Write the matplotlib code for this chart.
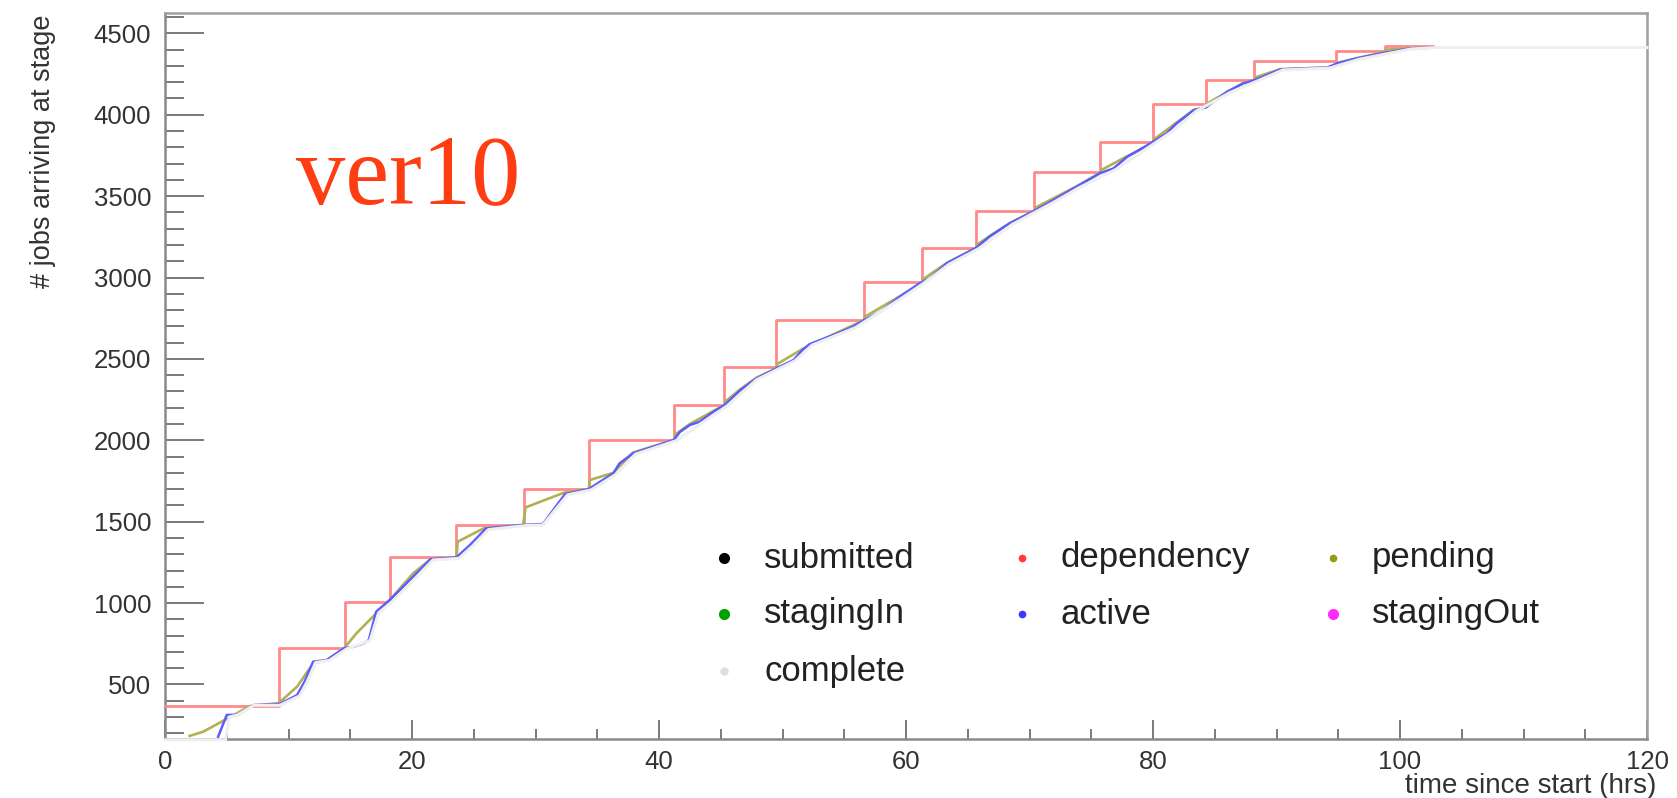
import matplotlib
matplotlib.use("Agg")
import matplotlib.pyplot as plt
from matplotlib.ticker import MultipleLocator

plt.rcParams['font.family'] = ['Liberation Sans', 'DejaVu Sans']

# ---------------- data ----------------
dep_t = [0, 9.2, 14.6, 18.2, 23.6, 29.1, 34.3, 41.2, 45.3, 49.5, 56.6, 61.3,
         65.7, 70.4, 75.7, 80.0, 84.3, 88.2, 94.8, 98.8, 102.7]
dep_n = [368, 722, 1006, 1281, 1480, 1700, 2002, 2216, 2448, 2738, 2970, 3183,
         3410, 3649, 3834, 4065, 4212, 4329, 4392, 4420, 4420]

pend_t = [2.0, 3.1, 4.6, 6.9, 9.2, 10.7, 12.0, 13.1, 14.5, 15.5,
          16.7, 18.2, 20.1, 21.5, 23.6, 23.7, 25.8, 29.0, 29.2, 32.3,
          34.3, 34.4, 36.3, 37.9, 41.2, 41.3, 42.5, 44.4, 45.3, 45.4,
          46.6, 47.9, 49.5, 49.6, 51.6, 54.1, 56.6, 56.7, 59.5, 61.3,
          61.4, 63.3, 65.7, 65.8, 68.4, 70.4, 70.5, 73.8, 75.7, 75.8,
          77.9, 80.0, 80.1, 83.3, 84.3, 84.4, 87.3, 88.2, 88.3, 90.3,
          94.1, 94.8, 94.9, 96.5, 98.8, 98.9, 100.8, 102.7]
pend_n = [184, 210, 272, 368, 385, 487, 630, 650, 722, 814,
          906, 1019, 1183, 1269, 1281, 1377, 1459, 1480, 1588, 1678,
          1700, 1756, 1800, 1925, 2002, 2035, 2100, 2180, 2216, 2240,
          2315, 2385, 2442, 2470, 2560, 2650, 2738, 2760, 2885, 2968,
          2990, 3090, 3183, 3205, 3335, 3410, 3430, 3560, 3641, 3660,
          3745, 3824, 3850, 4030, 4046, 4070, 4195, 4212, 4230, 4280,
          4290, 4300, 4318, 4348, 4385, 4400, 4408, 4413]

act_t = [4.3, 5.0, 5.9, 7.2, 9.3, 10.7, 11.3, 12.0, 13.1, 14.5,
         15.3, 16.1, 16.5, 17.1, 18.2, 20.1, 21.5, 23.6, 24.7, 26.0,
         29.0, 30.6, 32.4, 34.3, 36.3, 36.8, 37.9, 41.2, 41.7, 42.5,
         43.3, 44.4, 45.3, 46.6, 47.9, 49.5, 50.9, 51.6, 52.2, 54.1,
         55.7, 56.6, 57.9, 59.5, 61.1, 61.9, 63.3, 65.7, 66.8, 68.4,
         70.4, 71.7, 73.8, 75.7, 76.8, 77.9, 79.8, 81.1, 81.9, 83.3,
         84.3, 86.0, 87.3, 88.2, 89.2, 90.3, 91.9, 94.1, 94.9, 96.5,
         98.7, 100.8, 102.7]
act_n = [179, 313, 313, 374, 380, 435, 517, 640, 650, 722,
         732, 753, 773, 947, 1019, 1162, 1269, 1281, 1357, 1459,
         1480, 1486, 1670, 1700, 1797, 1858, 1920, 2002, 2052, 2094,
         2114, 2175, 2216, 2309, 2380, 2442, 2493, 2554, 2591, 2646,
         2697, 2738, 2789, 2882, 2964, 2995, 3087, 3183, 3254, 3332,
         3410, 3465, 3557, 3641, 3670, 3741, 3824, 3885, 3946, 4028,
         4046, 4141, 4192, 4212, 4243, 4278, 4284, 4290, 4315, 4346,
         4380, 4407, 4413]

comp_t = [0, 4.9, 5.2, 5.9, 7.2, 9.3, 10.9, 11.5, 12.2, 13.3, 14.7, 16.6,
          17.3, 18.5, 20.3, 21.7, 23.8, 24.9, 26.2, 29.2, 30.6, 32.6, 34.5,
          36.5, 38.1, 41.4, 43.5, 45.5, 47.9, 51.0, 52.4, 55.9, 59.7, 61.3,
          63.5, 65.9, 68.6, 71.9, 74.0, 77.0, 80.0, 81.6, 83.5, 86.2, 89.4,
          90.5, 94.3, 96.7, 100.9, 102.9, 120]
comp_n = [160, 160, 300, 313, 372, 372, 430, 515, 635, 648, 718, 770,
          940, 1015, 1155, 1265, 1275, 1350, 1452, 1476, 1480, 1665, 1695,
          1790, 1915, 1998, 2108, 2210, 2372, 2488, 2585, 2692, 2876, 2958,
          3082, 3178, 3326, 3460, 3551, 3664, 3818, 3900, 4022, 4135, 4238,
          4275, 4287, 4341, 4404, 4413, 4413]

legend_labels = ["submitted", "dependency", "pending",
                 "stagingIn", "active", "stagingOut", "complete"]
legend_colors = ["#000000", "#ff3a3a", "#9a9a10",
                 "#00a000", "#3a3aff", "#ff2aff", "#dedede"]
legend_sizes = [7, 4.5, 4.5, 7, 4.5, 7, 5]

x_ticks = [0, 20, 40, 60, 80, 100, 120]
y_ticks = [500, 1000, 1500, 2000, 2500, 3000, 3500, 4000, 4500]

# ---------------- figure ----------------
W, H = 1677, 798
fig = plt.figure(figsize=(W / 100, H / 100), dpi=100)
ax = fig.add_axes([165 / W, 1 - 739 / H, (1647 - 165) / W, (739 - 13) / H])

ax.step(dep_t, dep_n, where='post', color='#ff8a8a', lw=2.0, zorder=3)
ax.plot(pend_t, pend_n, color='#b0b055', lw=1.9, zorder=4)
ax.plot(act_t, act_n, color='#5c5cff', lw=1.8, zorder=5)
ax.plot(comp_t, comp_n, color='#efefef', lw=2.2, zorder=6, clip_on=False)

ax.set_xlim(0, 120)
ax.set_ylim(165, 4625)
ax.set_xticks(x_ticks)
ax.set_yticks(y_ticks)
ax.xaxis.set_minor_locator(MultipleLocator(5))
ax.yaxis.set_minor_locator(MultipleLocator(100))

tick_col = '#7a7a7a'
ax.tick_params(axis='y', which='major', direction='in', length=28, width=1.4,
               color=tick_col, labelsize=18.5, labelcolor='#333333', pad=10)
ax.tick_params(axis='y', which='minor', direction='in', length=14, width=1.4,
               color=tick_col)
ax.tick_params(axis='x', which='major', direction='in', length=14, width=1.4,
               color=tick_col, labelsize=18.5, labelcolor='#333333', pad=8)
ax.tick_params(axis='x', which='minor', direction='in', length=7, width=1.4,
               color=tick_col)

for s in ['left', 'bottom']:
    ax.spines[s].set_color('#8a8a8a')
    ax.spines[s].set_linewidth(1.8)
for s in ['top', 'right']:
    ax.spines[s].set_color('#a0a0a0')
    ax.spines[s].set_linewidth(1.8)

fig.text(43 / W, 1 - 14 / H, "# jobs arriving at stage", rotation=90,
         ha='center', va='top', fontsize=19.5, color='#333333')
fig.text(1656 / W, 1 - 786 / H, "time since start (hrs)", ha='right',
         va='center', fontsize=20, color='#333333')

fig.text(296 / W, 1 - 203 / H, "ver10", family=['Liberation Serif'],
         fontsize=71, color='#ff3d12', va='baseline', ha='left')

# legend (3 columns, row-major)
col_marker_x = [724, 1022, 1333]
col_text_x = [764, 1060, 1372]
row_y = [558, 614, 671]
for i, (lab, col, ms) in enumerate(zip(legend_labels, legend_colors, legend_sizes)):
    r, c = divmod(i, 3)
    fig.add_artist(plt.Line2D([col_marker_x[c] / W], [1 - row_y[r] / H],
                              marker='o', markersize=ms, color=col, lw=0,
                              transform=fig.transFigure))
    fig.text(col_text_x[c] / W, 1 - row_y[r] / H, lab, fontsize=25,
             color='#222222', va='center', ha='left')

fig.savefig("out.png", dpi=100)
